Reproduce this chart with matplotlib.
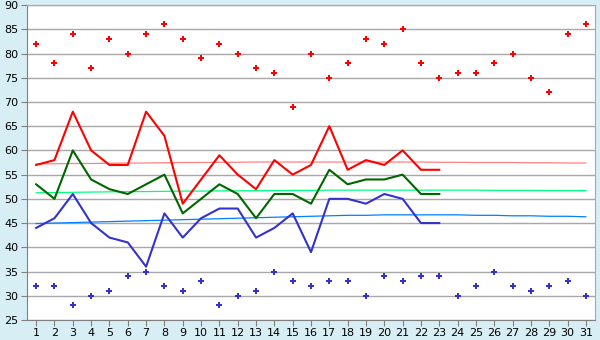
import numpy as np
import matplotlib
matplotlib.use("Agg")
import matplotlib.pyplot as plt

# days
days = list(range(1, 32))

# scattered daily extremes
red_dots = [82, 78, 84, 77, 83, 80, 84, 86, 83, 79, 82, 80, 77, 76, 69, 80,
            75, 78, 83, 82, 85, 78, 75, 76, 76, 78, 80, 75, 72, 84, 86]
blue_dots = [32, 32, 28, 30, 31, 34, 35, 32, 31, 33, 28, 30, 31, 35, 33, 32,
             33, 33, 30, 34, 33, 34, 34, 30, 32, 35, 32, 31, 32, 33, 30]

# lines (first 23 days only)
red_line = [57, 58, 68, 60, 57, 57, 68, 63, 49, 54, 59, 55, 52, 58, 55, 57,
            65, 56, 58, 57, 60, 56, 56]
green_line = [53, 50, 60, 54, 52, 51, 53, 55, 47, 50, 53, 51, 46, 51, 51, 49,
              56, 53, 54, 54, 55, 51, 51]
blue_line = [44, 46, 51, 45, 42, 41, 36, 47, 42, 46, 48, 48, 42, 44, 47, 39,
             50, 50, 49, 51, 50, 45, 45]

# trend lines
red_trend = [57.2, 57.25, 57.3, 57.3, 57.35, 57.4, 57.4, 57.45, 57.5, 57.5,
             57.55, 57.55, 57.6, 57.6, 57.6, 57.6, 57.6, 57.6, 57.6, 57.6,
             57.6, 57.6, 57.55, 57.55, 57.5, 57.5, 57.5, 57.45, 57.45, 57.4, 57.4]
green_trend = [51.25, 51.3, 51.35, 51.4, 51.45, 51.5, 51.5, 51.55, 51.6, 51.6,
               51.65, 51.65, 51.7, 51.7, 51.75, 51.75, 51.8, 51.8, 51.8, 51.8,
               51.8, 51.8, 51.8, 51.8, 51.8, 51.75, 51.75, 51.75, 51.7, 51.7, 51.7]
blue_trend = [44.9, 45.0, 45.1, 45.2, 45.3, 45.4, 45.5, 45.6, 45.7, 45.8,
              45.9, 46.0, 46.1, 46.2, 46.3, 46.4, 46.5, 46.6, 46.6, 46.7,
              46.7, 46.7, 46.7, 46.7, 46.6, 46.6, 46.5, 46.5, 46.4, 46.4, 46.3]

bg = "#D8EEF5"
fig = plt.figure(figsize=(6, 3.4), dpi=100, facecolor=bg)
ax = fig.add_axes([0.045, 0.059, 0.9467, 0.926])
ax.set_facecolor("white")

ax.set_ylim(25, 90)
ax.set_xlim(0.5, 31.5)
ax.set_yticks(np.arange(25, 91, 5))
ax.set_xticks(days)
ax.yaxis.grid(True, color="#A8A8A8", linewidth=1)
ax.set_axisbelow(True)

n = len(red_line)
ax.plot(days, red_trend, color="#FF8080", linewidth=0.9)
ax.plot(days, green_trend, color="#00FF80", linewidth=0.9)
ax.plot(days, blue_trend, color="#0080FF", linewidth=0.9)

ax.plot(days[:n], red_line, color="#FF0000", linewidth=1.5)
ax.plot(days[:n], green_line, color="#006600", linewidth=1.5)
ax.plot(days[:n], blue_line, color="#3333CC", linewidth=1.5)

ax.plot(days, red_dots, linestyle="none", marker="P", markersize=5,
        markeredgewidth=0, color="#FF0000")
ax.plot(days, blue_dots, linestyle="none", marker="P", markersize=5,
        markeredgewidth=0, color="#3333CC")

for s in ["top", "right"]:
    ax.spines[s].set_color("#A8A8A8")
for s in ["left", "bottom"]:
    ax.spines[s].set_color("#808080")
ax.tick_params(axis="both", labelsize=8, length=4, color="#808080", pad=2)

fig.savefig("out.png", dpi=100, facecolor=bg)
